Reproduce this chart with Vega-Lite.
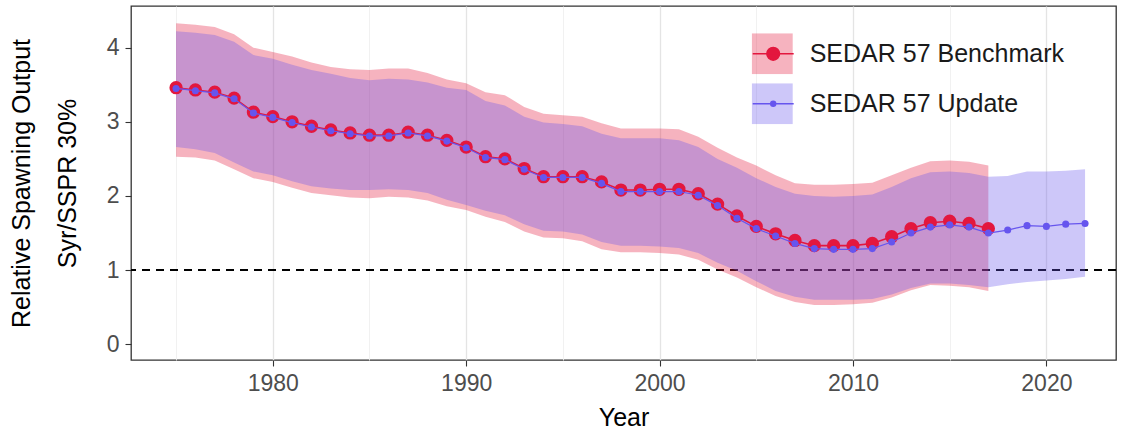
{
  "$schema": "https://vega.github.io/schema/vega-lite/v6.json",
  "width": 985,
  "height": 354,
  "autosize": {"type": "none"},
  "padding": {"left": 131, "top": 6, "right": 9, "bottom": 78},
  "background": "white",
  "config": {
    "font": "Liberation Sans",
    "view": {"stroke": "#333333", "strokeWidth": 1.3},
    "axis": {
      "domain": false,
      "tickColor": "#333333",
      "tickSize": 6,
      "tickWidth": 1.1,
      "labelColor": "#4d4d4d",
      "labelFontSize": 23,
      "labelFont": "Liberation Sans",
      "titleFont": "Liberation Sans",
      "titleFontSize": 25,
      "titleFontWeight": "normal",
      "titleColor": "#000000"
    }
  },
  "datasets": {
    "rows": [
      {"series": "SEDAR 57 Benchmark", "year": 1975, "est": 3.46, "lo": 2.53, "hi": 4.33},
      {"series": "SEDAR 57 Benchmark", "year": 1976, "est": 3.43, "lo": 2.52, "hi": 4.31},
      {"series": "SEDAR 57 Benchmark", "year": 1977, "est": 3.40, "lo": 2.48, "hi": 4.28},
      {"series": "SEDAR 57 Benchmark", "year": 1978, "est": 3.32, "lo": 2.36, "hi": 4.18},
      {"series": "SEDAR 57 Benchmark", "year": 1979, "est": 3.13, "lo": 2.24, "hi": 4.00},
      {"series": "SEDAR 57 Benchmark", "year": 1980, "est": 3.07, "lo": 2.19, "hi": 3.94},
      {"series": "SEDAR 57 Benchmark", "year": 1981, "est": 3.00, "lo": 2.11, "hi": 3.88},
      {"series": "SEDAR 57 Benchmark", "year": 1982, "est": 2.94, "lo": 2.04, "hi": 3.80},
      {"series": "SEDAR 57 Benchmark", "year": 1983, "est": 2.89, "lo": 2.01, "hi": 3.74},
      {"series": "SEDAR 57 Benchmark", "year": 1984, "est": 2.85, "lo": 1.98, "hi": 3.71},
      {"series": "SEDAR 57 Benchmark", "year": 1985, "est": 2.82, "lo": 1.97, "hi": 3.70},
      {"series": "SEDAR 57 Benchmark", "year": 1986, "est": 2.82, "lo": 1.99, "hi": 3.72},
      {"series": "SEDAR 57 Benchmark", "year": 1987, "est": 2.86, "lo": 1.98, "hi": 3.72},
      {"series": "SEDAR 57 Benchmark", "year": 1988, "est": 2.82, "lo": 1.94, "hi": 3.66},
      {"series": "SEDAR 57 Benchmark", "year": 1989, "est": 2.75, "lo": 1.86, "hi": 3.57},
      {"series": "SEDAR 57 Benchmark", "year": 1990, "est": 2.66, "lo": 1.81, "hi": 3.52},
      {"series": "SEDAR 57 Benchmark", "year": 1991, "est": 2.53, "lo": 1.72, "hi": 3.40},
      {"series": "SEDAR 57 Benchmark", "year": 1992, "est": 2.50, "lo": 1.65, "hi": 3.36},
      {"series": "SEDAR 57 Benchmark", "year": 1993, "est": 2.37, "lo": 1.52, "hi": 3.20},
      {"series": "SEDAR 57 Benchmark", "year": 1994, "est": 2.26, "lo": 1.44, "hi": 3.11},
      {"series": "SEDAR 57 Benchmark", "year": 1995, "est": 2.26, "lo": 1.43, "hi": 3.09},
      {"series": "SEDAR 57 Benchmark", "year": 1996, "est": 2.26, "lo": 1.39, "hi": 3.07},
      {"series": "SEDAR 57 Benchmark", "year": 1997, "est": 2.19, "lo": 1.28, "hi": 2.98},
      {"series": "SEDAR 57 Benchmark", "year": 1998, "est": 2.08, "lo": 1.24, "hi": 2.91},
      {"series": "SEDAR 57 Benchmark", "year": 1999, "est": 2.08, "lo": 1.24, "hi": 2.91},
      {"series": "SEDAR 57 Benchmark", "year": 2000, "est": 2.09, "lo": 1.23, "hi": 2.91},
      {"series": "SEDAR 57 Benchmark", "year": 2001, "est": 2.09, "lo": 1.21, "hi": 2.90},
      {"series": "SEDAR 57 Benchmark", "year": 2002, "est": 2.03, "lo": 1.14, "hi": 2.80},
      {"series": "SEDAR 57 Benchmark", "year": 2003, "est": 1.89, "lo": 1.01, "hi": 2.65},
      {"series": "SEDAR 57 Benchmark", "year": 2004, "est": 1.73, "lo": 0.90, "hi": 2.52},
      {"series": "SEDAR 57 Benchmark", "year": 2005, "est": 1.59, "lo": 0.77, "hi": 2.41},
      {"series": "SEDAR 57 Benchmark", "year": 2006, "est": 1.49, "lo": 0.65, "hi": 2.28},
      {"series": "SEDAR 57 Benchmark", "year": 2007, "est": 1.40, "lo": 0.57, "hi": 2.17},
      {"series": "SEDAR 57 Benchmark", "year": 2008, "est": 1.33, "lo": 0.53, "hi": 2.15},
      {"series": "SEDAR 57 Benchmark", "year": 2009, "est": 1.33, "lo": 0.53, "hi": 2.15},
      {"series": "SEDAR 57 Benchmark", "year": 2010, "est": 1.33, "lo": 0.54, "hi": 2.16},
      {"series": "SEDAR 57 Benchmark", "year": 2011, "est": 1.36, "lo": 0.56, "hi": 2.18},
      {"series": "SEDAR 57 Benchmark", "year": 2012, "est": 1.45, "lo": 0.63, "hi": 2.28},
      {"series": "SEDAR 57 Benchmark", "year": 2013, "est": 1.56, "lo": 0.73, "hi": 2.38},
      {"series": "SEDAR 57 Benchmark", "year": 2014, "est": 1.64, "lo": 0.80, "hi": 2.47},
      {"series": "SEDAR 57 Benchmark", "year": 2015, "est": 1.66, "lo": 0.79, "hi": 2.48},
      {"series": "SEDAR 57 Benchmark", "year": 2016, "est": 1.63, "lo": 0.77, "hi": 2.46},
      {"series": "SEDAR 57 Benchmark", "year": 2017, "est": 1.56, "lo": 0.72, "hi": 2.41},
      {"series": "SEDAR 57 Update", "year": 1975, "est": 3.45, "lo": 2.66, "hi": 4.22},
      {"series": "SEDAR 57 Update", "year": 1976, "est": 3.42, "lo": 2.63, "hi": 4.20},
      {"series": "SEDAR 57 Update", "year": 1977, "est": 3.39, "lo": 2.58, "hi": 4.17},
      {"series": "SEDAR 57 Update", "year": 1978, "est": 3.31, "lo": 2.45, "hi": 4.08},
      {"series": "SEDAR 57 Update", "year": 1979, "est": 3.12, "lo": 2.33, "hi": 3.90},
      {"series": "SEDAR 57 Update", "year": 1980, "est": 3.06, "lo": 2.28, "hi": 3.85},
      {"series": "SEDAR 57 Update", "year": 1981, "est": 2.99, "lo": 2.20, "hi": 3.77},
      {"series": "SEDAR 57 Update", "year": 1982, "est": 2.93, "lo": 2.13, "hi": 3.70},
      {"series": "SEDAR 57 Update", "year": 1983, "est": 2.88, "lo": 2.10, "hi": 3.65},
      {"series": "SEDAR 57 Update", "year": 1984, "est": 2.84, "lo": 2.08, "hi": 3.59},
      {"series": "SEDAR 57 Update", "year": 1985, "est": 2.81, "lo": 2.08, "hi": 3.56},
      {"series": "SEDAR 57 Update", "year": 1986, "est": 2.81, "lo": 2.09, "hi": 3.58},
      {"series": "SEDAR 57 Update", "year": 1987, "est": 2.85, "lo": 2.08, "hi": 3.57},
      {"series": "SEDAR 57 Update", "year": 1988, "est": 2.81, "lo": 2.04, "hi": 3.53},
      {"series": "SEDAR 57 Update", "year": 1989, "est": 2.74, "lo": 1.95, "hi": 3.46},
      {"series": "SEDAR 57 Update", "year": 1990, "est": 2.65, "lo": 1.88, "hi": 3.43},
      {"series": "SEDAR 57 Update", "year": 1991, "est": 2.52, "lo": 1.80, "hi": 3.28},
      {"series": "SEDAR 57 Update", "year": 1992, "est": 2.49, "lo": 1.74, "hi": 3.22},
      {"series": "SEDAR 57 Update", "year": 1993, "est": 2.36, "lo": 1.62, "hi": 3.07},
      {"series": "SEDAR 57 Update", "year": 1994, "est": 2.25, "lo": 1.53, "hi": 2.99},
      {"series": "SEDAR 57 Update", "year": 1995, "est": 2.25, "lo": 1.52, "hi": 2.97},
      {"series": "SEDAR 57 Update", "year": 1996, "est": 2.25, "lo": 1.48, "hi": 2.94},
      {"series": "SEDAR 57 Update", "year": 1997, "est": 2.17, "lo": 1.38, "hi": 2.84},
      {"series": "SEDAR 57 Update", "year": 1998, "est": 2.06, "lo": 1.33, "hi": 2.78},
      {"series": "SEDAR 57 Update", "year": 1999, "est": 2.06, "lo": 1.33, "hi": 2.78},
      {"series": "SEDAR 57 Update", "year": 2000, "est": 2.06, "lo": 1.32, "hi": 2.78},
      {"series": "SEDAR 57 Update", "year": 2001, "est": 2.06, "lo": 1.30, "hi": 2.75},
      {"series": "SEDAR 57 Update", "year": 2002, "est": 2.01, "lo": 1.23, "hi": 2.66},
      {"series": "SEDAR 57 Update", "year": 2003, "est": 1.87, "lo": 1.10, "hi": 2.50},
      {"series": "SEDAR 57 Update", "year": 2004, "est": 1.70, "lo": 0.99, "hi": 2.38},
      {"series": "SEDAR 57 Update", "year": 2005, "est": 1.56, "lo": 0.85, "hi": 2.24},
      {"series": "SEDAR 57 Update", "year": 2006, "est": 1.46, "lo": 0.72, "hi": 2.12},
      {"series": "SEDAR 57 Update", "year": 2007, "est": 1.36, "lo": 0.64, "hi": 2.03},
      {"series": "SEDAR 57 Update", "year": 2008, "est": 1.29, "lo": 0.60, "hi": 2.00},
      {"series": "SEDAR 57 Update", "year": 2009, "est": 1.28, "lo": 0.60, "hi": 1.99},
      {"series": "SEDAR 57 Update", "year": 2010, "est": 1.28, "lo": 0.60, "hi": 2.00},
      {"series": "SEDAR 57 Update", "year": 2011, "est": 1.29, "lo": 0.61, "hi": 2.02},
      {"series": "SEDAR 57 Update", "year": 2012, "est": 1.38, "lo": 0.67, "hi": 2.12},
      {"series": "SEDAR 57 Update", "year": 2013, "est": 1.50, "lo": 0.76, "hi": 2.24},
      {"series": "SEDAR 57 Update", "year": 2014, "est": 1.58, "lo": 0.82, "hi": 2.32},
      {"series": "SEDAR 57 Update", "year": 2015, "est": 1.61, "lo": 0.82, "hi": 2.33},
      {"series": "SEDAR 57 Update", "year": 2016, "est": 1.58, "lo": 0.80, "hi": 2.31},
      {"series": "SEDAR 57 Update", "year": 2017, "est": 1.50, "lo": 0.77, "hi": 2.26},
      {"series": "SEDAR 57 Update", "year": 2018, "est": 1.54, "lo": 0.81, "hi": 2.27},
      {"series": "SEDAR 57 Update", "year": 2019, "est": 1.60, "lo": 0.84, "hi": 2.33},
      {"series": "SEDAR 57 Update", "year": 2020, "est": 1.59, "lo": 0.86, "hi": 2.33},
      {"series": "SEDAR 57 Update", "year": 2021, "est": 1.62, "lo": 0.88, "hi": 2.34},
      {"series": "SEDAR 57 Update", "year": 2022, "est": 1.63, "lo": 0.91, "hi": 2.36}
    ]
  },
  "data": {"name": "rows"},
  "layer": [
    {
      "mark": {"type": "rule", "color": "#000000", "strokeWidth": 1.8, "strokeDash": [8, 6]},
      "encoding": {"y": {"datum": 1, "type": "quantitative"}}
    },
    {
      "transform": [{"filter": "datum.series === 'SEDAR 57 Benchmark'"}],
      "mark": {"type": "area", "fillOpacity": 0.33},
      "encoding": {
        "x": {
          "field": "year", "type": "quantitative",
          "scale": {"domain": [1972.67, 2023.6], "nice": false, "zero": false},
          "axis": {
            "title": "Year",
            "values": [1975, 1980, 1985, 1990, 1995, 2000, 2005, 2010, 2015, 2020],
            "format": "d",
            "labelExpr": "datum.value % 10 === 0 ? datum.label : ''",
            "labelPadding": 6,
            "labelFlush": false,
            "titlePadding": 10,
            "gridColor": {"condition": {"test": "datum.value % 10 === 0", "value": "#e4e4e4"}, "value": "#efefef"},
            "gridWidth": {"condition": {"test": "datum.value % 10 === 0", "value": 1.3}, "value": 0.9},
            "tickOpacity": {"condition": {"test": "datum.value % 10 === 0", "value": 1}, "value": 0}
          }
        },
        "y": {
          "field": "lo", "type": "quantitative",
          "scale": {"domain": [-0.212, 4.562], "nice": false, "zero": false},
          "axis": {
            "title": ["Relative Spawning Output", "Syr/SSPR 30%"],
            "values": [0, 0.5, 1, 1.5, 2, 2.5, 3, 3.5, 4, 4.5],
            "labelExpr": "datum.value % 1 === 0 ? format(datum.value, 'd') : ''",
            "labelPadding": 6,
            "titleAngle": 270,
            "titleX": -97,
            "titleY": 177,
            "titleAlign": "center",
            "titleBaseline": "bottom",
            "titleLineHeight": 46,
            "gridColor": {"condition": {"test": "datum.value % 1 === 0", "value": "#e4e4e4"}, "value": "#efefef"},
            "gridWidth": {"condition": {"test": "datum.value % 1 === 0", "value": 1.3}, "value": 0.9},
            "tickOpacity": {"condition": {"test": "datum.value % 1 === 0", "value": 1}, "value": 0}
          }
        },
        "y2": {"field": "hi"},
        "fill": {
          "field": "series", "type": "nominal",
          "scale": {"domain": ["SEDAR 57 Benchmark", "SEDAR 57 Update"], "range": ["#e3173e", "#6655ee"]},
          "legend": {
            "orient": "none", "legendX": 620.7, "legendY": 27.3, "title": null, "padding": 0,
            "clipHeight": 41, "rowPadding": 9, "symbolType": "square", "symbolSize": 1681,
            "symbolOpacity": 0.33, "symbolStrokeWidth": 0, "labelFontSize": 25, "labelOffset": 17,
            "labelColor": "#1a1a1a", "labelLimit": 400, "labelFont": "Liberation Sans"
          }
        }
      }
    },
    {
      "transform": [{"filter": "datum.series === 'SEDAR 57 Update'"}],
      "mark": {"type": "area", "fillOpacity": 0.33},
      "encoding": {
        "x": {"field": "year", "type": "quantitative"},
        "y": {"field": "lo", "type": "quantitative"},
        "y2": {"field": "hi"},
        "fill": {"field": "series", "type": "nominal"}
      }
    },
    {
      "transform": [{"filter": "datum.series === 'SEDAR 57 Benchmark'"}],
      "mark": {"type": "line", "strokeWidth": 1.6},
      "encoding": {
        "x": {"field": "year", "type": "quantitative"},
        "y": {"field": "est", "type": "quantitative"},
        "stroke": {
          "field": "series", "type": "nominal",
          "scale": {"range": ["#e3173e", "#6655ee"]},
          "legend": {
            "orient": "none", "legendX": 620.7, "legendY": 27.3, "title": null, "padding": 0,
            "clipHeight": 41, "rowPadding": 9, "symbolSize": 1681, "symbolStrokeWidth": 1.5,
            "labelOpacity": 0, "labelFontSize": 25, "labelOffset": 17, "labelLimit": 400,
            "encode": {
              "symbols": {
                "update": {
                  "shape": {"signal": "datum.value === 'SEDAR 57 Benchmark' ? 'M-1,0H1M0.31,0A0.31,0.31,0,1,1,-0.31,0A0.31,0.31,0,1,1,0.31,0Z' : 'M-1,0H1M0.12,0A0.12,0.12,0,1,1,-0.12,0A0.12,0.12,0,1,1,0.12,0Z'"},
                  "fill": {"scale": "stroke", "field": "value"},
                  "stroke": {"scale": "stroke", "field": "value"},
                  "opacity": {"value": 1}
                }
              }
            }
          }
        }
      }
    },
    {
      "transform": [{"filter": "datum.series === 'SEDAR 57 Benchmark'"}],
      "mark": {"type": "point", "filled": true, "opacity": 1, "size": 177, "color": "#e3173e"},
      "encoding": {
        "x": {"field": "year", "type": "quantitative"},
        "y": {"field": "est", "type": "quantitative"}
      }
    },
    {
      "transform": [{"filter": "datum.series === 'SEDAR 57 Update'"}],
      "mark": {"type": "line", "strokeWidth": 1.2},
      "encoding": {
        "x": {"field": "year", "type": "quantitative"},
        "y": {"field": "est", "type": "quantitative"},
        "stroke": {"field": "series", "type": "nominal"}
      }
    },
    {
      "transform": [{"filter": "datum.series === 'SEDAR 57 Update'"}],
      "mark": {"type": "point", "filled": true, "opacity": 1, "size": 50, "color": "#6655ee"},
      "encoding": {
        "x": {"field": "year", "type": "quantitative"},
        "y": {"field": "est", "type": "quantitative"}
      }
    }
  ]
}
